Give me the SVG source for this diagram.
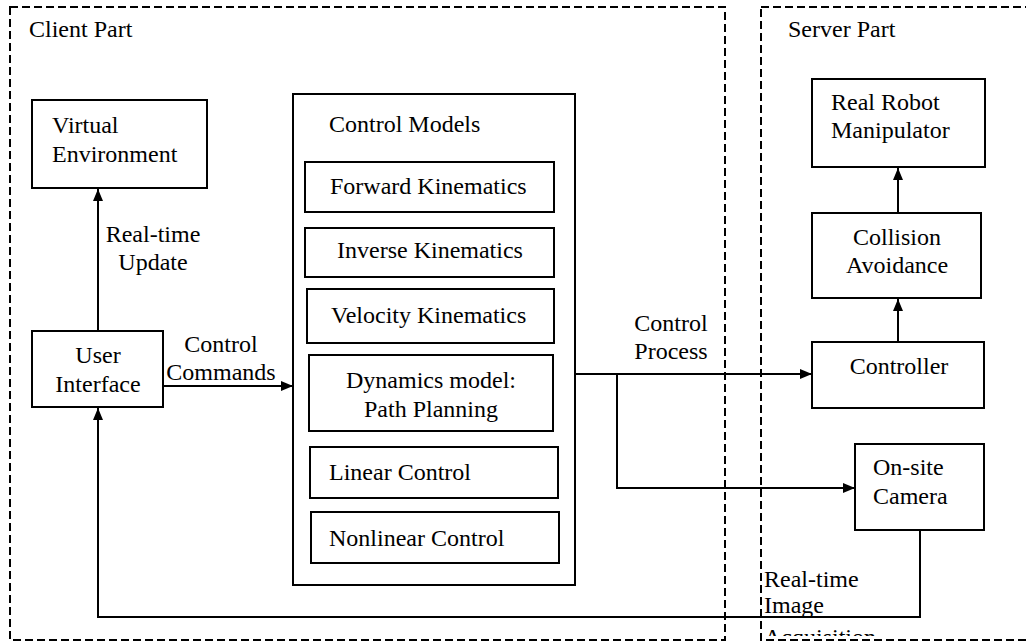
<svg xmlns="http://www.w3.org/2000/svg" width="1026" height="643" viewBox="0 0 1026 643">
  <style>
    text { font-family: "Liberation Serif", "Times New Roman", serif; font-size: 24px; fill: #000; }
    .mid { text-anchor: middle; }
    .box { fill: #fff; stroke: #000; stroke-width: 2; }
    .part { fill: none; stroke: #000; stroke-width: 2; stroke-dasharray: 8 4; }
    .wire { fill: none; stroke: #000; stroke-width: 2; }
  </style>
  <defs>
    <marker id="arrow" viewBox="0 0 12 10" refX="12" refY="5" markerWidth="12" markerHeight="10" markerUnits="userSpaceOnUse" orient="auto">
      <path d="M0,0 L12,5 L0,10 Z" fill="#000"/>
    </marker>
    <clipPath id="labelClip">
      <rect x="0" y="0" width="1026" height="636"/>
    </clipPath>
  </defs>
  <rect width="1026" height="643" fill="#fff"/>

  <!-- dashed partitions -->
  <g id="client-part">
    <rect class="part" x="10" y="7" width="715" height="633"/>
    <text x="29" y="37">Client Part</text>
  </g>
  <g id="server-part">
    <rect class="part" x="761" y="7" width="290" height="633"/>
    <text x="788" y="37">Server Part</text>
  </g>

  <!-- connectors -->
  <g id="connectors">
    <line class="wire" x1="98" y1="331" x2="98" y2="189" marker-end="url(#arrow)"/>
    <line class="wire" x1="163" y1="386" x2="293" y2="386" marker-end="url(#arrow)"/>
    <line class="wire" x1="575" y1="374" x2="812" y2="374" marker-end="url(#arrow)"/>
    <polyline class="wire" points="617,374 617,488 855,488" marker-end="url(#arrow)"/>
    <polyline class="wire" points="920,530 920,617 98,617 98,408" marker-end="url(#arrow)"/>
    <line class="wire" x1="898" y1="342" x2="898" y2="299" marker-end="url(#arrow)"/>
    <line class="wire" x1="898" y1="213" x2="898" y2="168" marker-end="url(#arrow)"/>
    <text class="mid" x="153" y="242">Real-time</text>
    <text class="mid" x="153" y="270">Update</text>
    <text class="mid" x="221" y="352">Control</text>
    <text class="mid" x="221" y="380">Commands</text>
    <text class="mid" x="671" y="331">Control</text>
    <text class="mid" x="671" y="359">Process</text>
    <text x="764" y="587">Real-time</text>
    <text x="764" y="613">Image</text>
    <text x="764" y="645" clip-path="url(#labelClip)">Acquisition</text>
  </g>

  <!-- client nodes -->
  <g id="virtual-environment">
    <rect class="box" x="32" y="100" width="175" height="88"/>
    <text x="52" y="133">Virtual</text>
    <text x="52" y="162">Environment</text>
  </g>
  <g id="user-interface">
    <rect class="box" x="32" y="331" width="131" height="76"/>
    <text class="mid" x="98" y="363">User</text>
    <text class="mid" x="98" y="392">Interface</text>
  </g>
  <g id="control-models">
    <rect class="box" x="293" y="94" width="282" height="491"/>
    <text x="329" y="132">Control Models</text>
  </g>
  <g id="forward-kinematics">
    <rect class="box" x="305" y="162" width="249" height="50"/>
    <text x="330" y="194">Forward Kinematics</text>
  </g>
  <g id="inverse-kinematics">
    <rect class="box" x="305" y="228" width="249" height="49"/>
    <text x="337" y="258">Inverse Kinematics</text>
  </g>
  <g id="velocity-kinematics">
    <rect class="box" x="307" y="289" width="247" height="54"/>
    <text x="331" y="323">Velocity Kinematics</text>
  </g>
  <g id="dynamics-model">
    <rect class="box" x="309" y="355" width="244" height="76"/>
    <text class="mid" x="431" y="388">Dynamics model:</text>
    <text class="mid" x="431" y="417">Path Planning</text>
  </g>
  <g id="linear-control">
    <rect class="box" x="310" y="447" width="248" height="51"/>
    <text x="329" y="480">Linear Control</text>
  </g>
  <g id="nonlinear-control">
    <rect class="box" x="311" y="512" width="248" height="51"/>
    <text x="329" y="546">Nonlinear Control</text>
  </g>

  <!-- server nodes -->
  <g id="real-robot-manipulator">
    <rect class="box" x="812" y="79" width="173" height="88"/>
    <text x="831" y="110">Real Robot</text>
    <text x="831" y="138">Manipulator</text>
  </g>
  <g id="collision-avoidance">
    <rect class="box" x="812" y="213" width="169" height="85"/>
    <text class="mid" x="897" y="245">Collision</text>
    <text class="mid" x="897" y="273">Avoidance</text>
  </g>
  <g id="controller">
    <rect class="box" x="812" y="342" width="172" height="66"/>
    <text class="mid" x="899" y="374">Controller</text>
  </g>
  <g id="on-site-camera">
    <rect class="box" x="855" y="444" width="129" height="86"/>
    <text x="873" y="475">On-site</text>
    <text x="873" y="504">Camera</text>
  </g>
</svg>
